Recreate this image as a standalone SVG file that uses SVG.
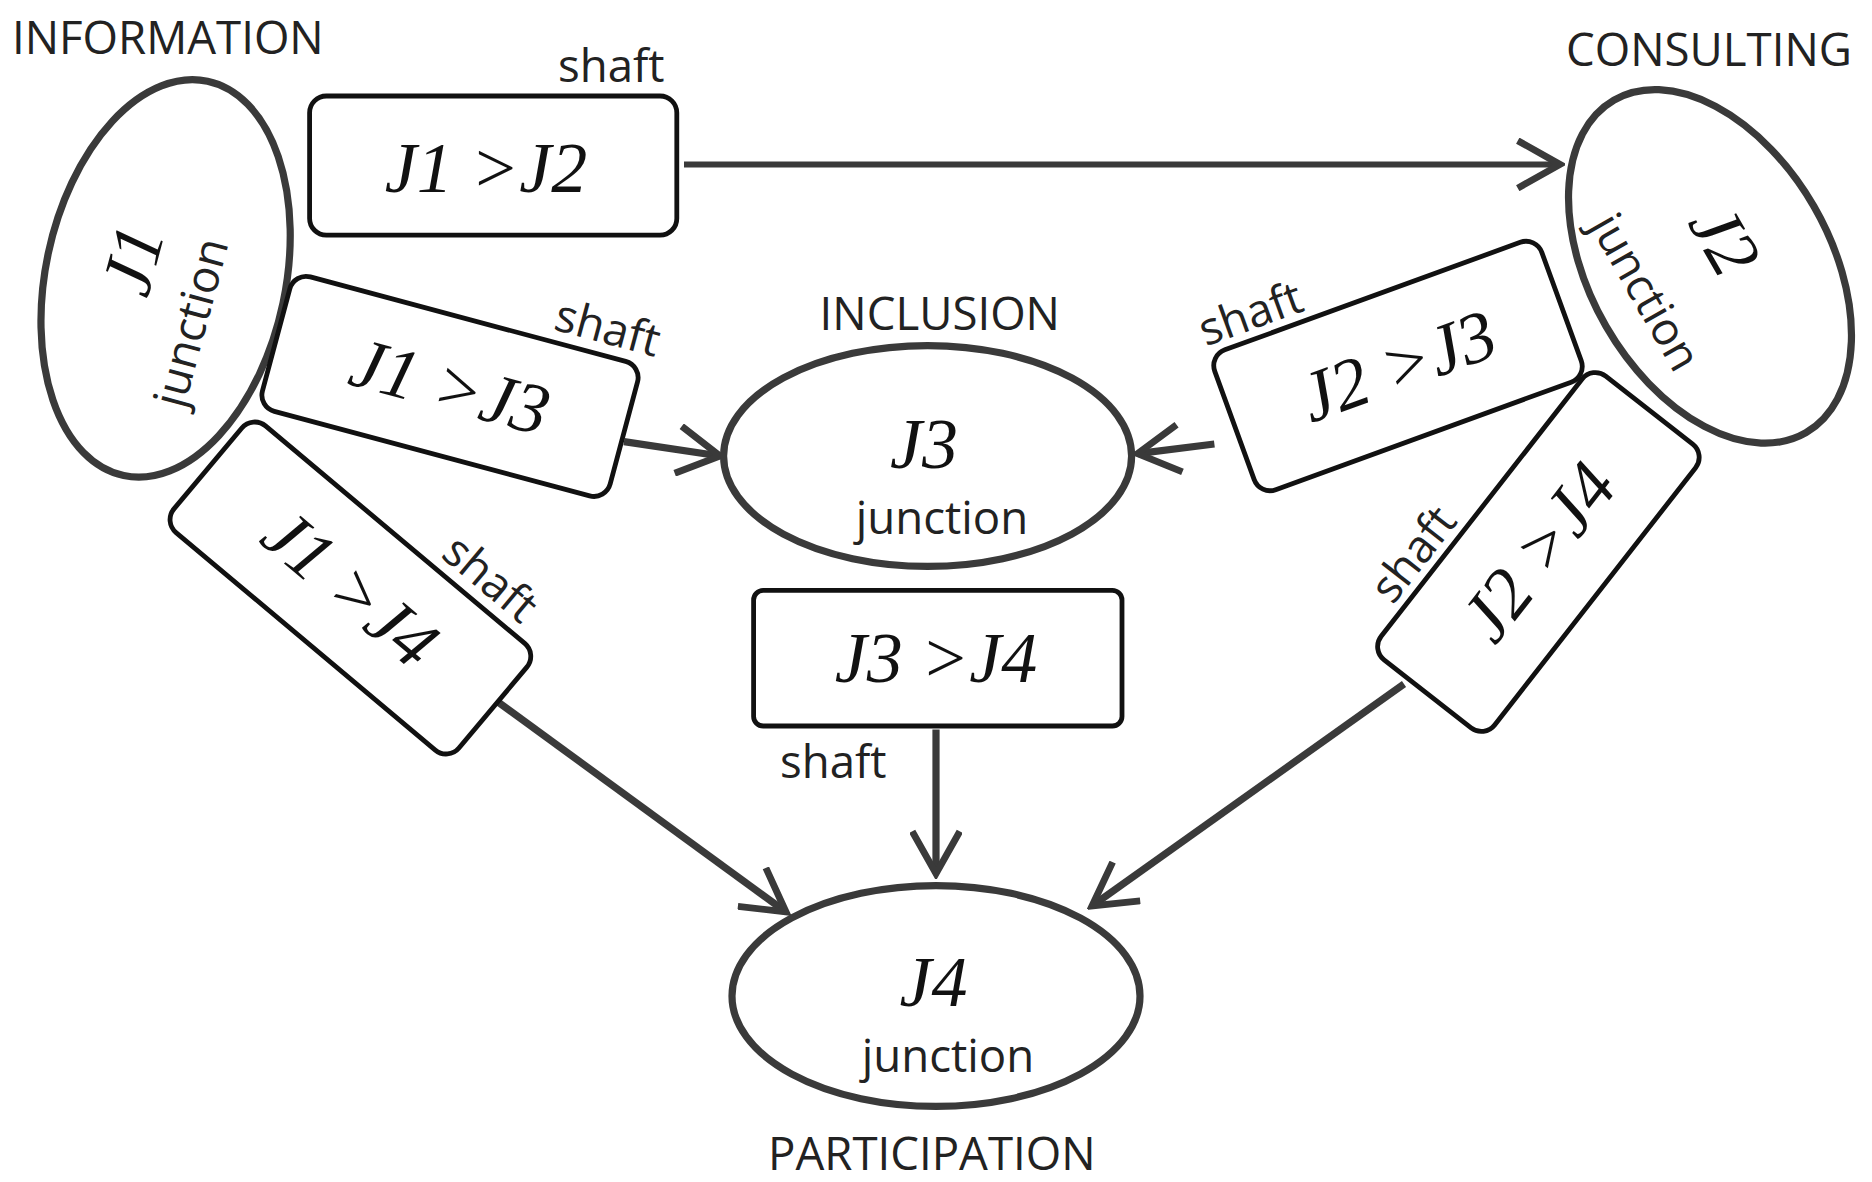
<svg xmlns="http://www.w3.org/2000/svg" width="1872" height="1182" viewBox="0 0 1872 1182">
<style>
.n{fill:none;stroke:#3a3a3a;stroke-width:6}
.b{fill:#fff;stroke:#111;stroke-width:4}
.l{font-family:"Open Sans","DejaVu Sans",sans-serif;font-size:38px;fill:#222}
.s{font-family:"Liberation Serif",serif;font-style:italic;font-size:60px;fill:#111}
.c{stroke:#3a3a3a;stroke-width:6;fill:none}
</style>
<defs>
<marker id="a" viewBox="0 0 20 20" refX="18" refY="10" markerWidth="44" markerHeight="44" orient="auto" markerUnits="userSpaceOnUse">
<polyline points="2,1 18,10 2,19" fill="none" stroke="#3a3a3a" stroke-width="2.6"/>
</marker>
</defs>
<rect width="1872" height="1182" fill="#fff"/>
<g transform="scale(1.2)">
<g id="connectors">
<line class="c" x1="570" y1="137" x2="1300" y2="137" marker-end="url(#a)" style="stroke-width:5"/>
<line class="c" x1="520" y1="368" x2="600" y2="380" marker-end="url(#a)"/>
<line class="c" x1="1012" y1="370" x2="948" y2="378" marker-end="url(#a)"/>
<line class="c" x1="415" y1="585" x2="655" y2="760" marker-end="url(#a)"/>
<line class="c" x1="780" y1="608" x2="780" y2="728" marker-end="url(#a)"/>
<line class="c" x1="1170" y1="570" x2="910" y2="755" marker-end="url(#a)"/>
</g>
<g id="J1"><ellipse class="n" cx="138" cy="232" rx="100" ry="168" transform="rotate(12 138 232)"/>
<text class="s" transform="translate(130 222) rotate(-75)" text-anchor="middle">J1</text>
<text class="l" transform="translate(172 272) rotate(-75)" text-anchor="middle">junction</text></g>
<text class="l" x="10" y="45">INFORMATION</text>
<g id="J2"><ellipse class="n" cx="1425" cy="222" rx="100" ry="160" transform="rotate(-30 1425 222)"/>
<text class="s" transform="translate(1420 210) rotate(60)" text-anchor="middle">J2</text>
<text class="l" transform="translate(1360 250) rotate(60)" text-anchor="middle">junction</text></g>
<text class="l" x="1305" y="55">CONSULTING</text>
<g id="J3"><ellipse class="n" cx="773" cy="380" rx="170" ry="92"/>
<text class="s" x="770" y="390" text-anchor="middle">J3</text>
<text class="l" x="785" y="445" text-anchor="middle">junction</text></g>
<text class="l" x="683" y="275">INCLUSION</text>
<g id="J4"><ellipse class="n" cx="780" cy="830" rx="170" ry="92"/>
<text class="s" x="778" y="838" text-anchor="middle">J4</text>
<text class="l" x="790" y="893" text-anchor="middle">junction</text></g>
<text class="l" x="640" y="975">PARTICIPATION</text>
<g id="J1J2"><rect class="b" x="258" y="80" width="306" height="116" rx="14"/>
<text class="s" x="405" y="160" text-anchor="middle">J1 &gt;J2</text>
<text class="l" x="465" y="68">shaft</text></g>
<g id="J1J3" transform="translate(375 322) rotate(15)"><rect class="b" x="-150" y="-58" width="300" height="116" rx="14"/>
<text class="s" x="0" y="20" text-anchor="middle">J1 &gt;J3</text>
<text class="l" x="70" y="-68">shaft</text></g>
<g id="J2J3" transform="translate(1165 305) rotate(-20)"><rect class="b" x="-145" y="-62" width="290" height="124" rx="14"/>
<text class="s" x="0" y="20" text-anchor="middle">J2 &gt;J3</text>
<text class="l" x="-145" y="-70">shaft</text></g>
<g id="J1J4" transform="translate(292 490) rotate(40)"><rect class="b" x="-155" y="-58" width="310" height="116" rx="14"/>
<text class="s" x="0" y="20" text-anchor="middle">J1 &gt;J4</text>
<text class="l" x="40" y="-68">shaft</text></g>
<g id="J3J4"><rect class="b" x="628" y="492" width="307" height="113" rx="8"/>
<text class="s" x="780" y="568" text-anchor="middle">J3 &gt;J4</text>
<text class="l" x="650" y="648">shaft</text></g>
<g id="J2J4" transform="translate(1282 460) rotate(-52)"><rect class="b" x="-150" y="-60" width="300" height="120" rx="14"/>
<text class="s" x="0" y="20" text-anchor="middle">J2 &gt;J4</text>
<text class="l" x="-110" y="-68">shaft</text></g>
</g>
</svg>
